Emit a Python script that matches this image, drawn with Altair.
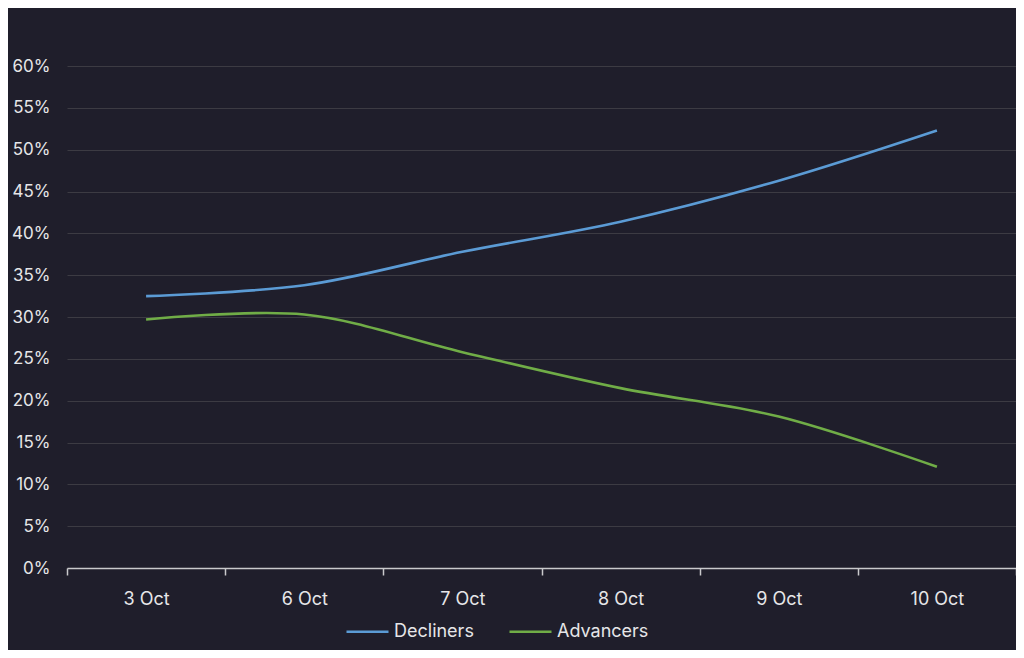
import altair as alt
import pandas as pd

dates = ["3 Oct", "6 Oct", "7 Oct", "8 Oct", "9 Oct", "10 Oct"]
decliners = [0.325, 0.338, 0.378, 0.414, 0.463, 0.523]
advancers = [0.297, 0.303, 0.258, 0.215, 0.181, 0.121]
series = ["Decliners", "Advancers"]
colors = ["#5b9bd5", "#70ad47"]
y_ticks = [0.0, 0.05, 0.1, 0.15, 0.2, 0.25, 0.3, 0.35, 0.4, 0.45, 0.5, 0.55, 0.6]

rows = []
for d, v in zip(dates, decliners):
    rows.append({"date": d, "value": v, "series": "Decliners"})
for d, v in zip(dates, advancers):
    rows.append({"date": d, "value": v, "series": "Advancers"})
df = pd.DataFrame(rows)

FONT = "Inter"
BG = "#1f1e2b"

chart = alt.Chart(df).mark_line(interpolate="catmull-rom", strokeWidth=2.6).encode(
    x=alt.X("date:N", sort=dates, title=None,
            scale=alt.Scale(paddingInner=0, paddingOuter=0),
            axis=alt.Axis(labelAngle=0, tickBand="extent", domainColor="#c9c9cc",
                          tickColor="#c9c9cc", tickSize=7, domainWidth=1.5, tickWidth=1.5,
                          labelColor="#e6e6e8", labelFontSize=18, labelFont=FONT,
                          labelPadding=15, grid=False)),
    y=alt.Y("value:Q", title=None,
            scale=alt.Scale(domain=[0, 0.6001], nice=False),
            axis=alt.Axis(format=".0%", values=y_ticks,
                          domain=False, ticks=False, labelColor="#e6e6e8",
                          labelFontSize=17, labelFont=FONT, labelPadding=17,
                          gridColor="#3c3b43", gridWidth=1.2)),
    color=alt.Color("series:N", scale=alt.Scale(domain=series, range=colors),
                    legend=alt.Legend(title=None, orient="none", direction="horizontal",
                                      legendX=278, legendY=543,
                                      symbolType="stroke", symbolSize=1764,
                                      symbolStrokeWidth=2.6, labelFontSize=18,
                                      labelFont=FONT, labelColor="#e6e6e8",
                                      labelOffset=4, columnPadding=30)),
).properties(
    width=949, height=502, background=BG,
    padding={"left": 59, "top": 58, "right": 0, "bottom": 82},
    autosize=alt.AutoSizeParams(type="none"),
).configure_view(stroke=None)

chart.save("out.html", embed_options={"renderer": "svg", "actions": False})
